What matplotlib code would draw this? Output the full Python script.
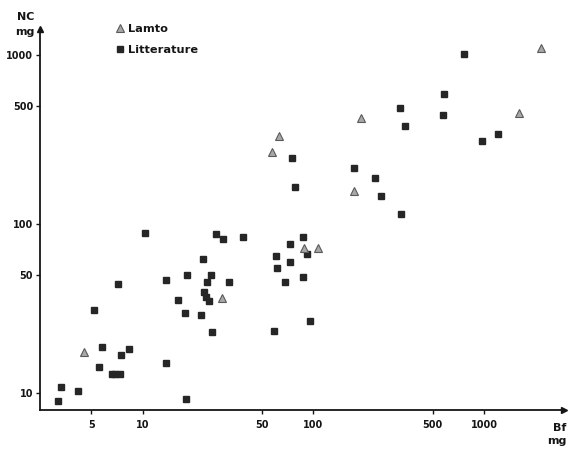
import matplotlib
matplotlib.use("Agg")
import matplotlib.pyplot as plt
import matplotlib.ticker as mticker

# Litterature (squares): Bf (mg), NC (mg)
lit_bf = [3.21, 3.34, 4.21, 5.59, 5.82, 6.58, 6.94, 7.33, 7.52, 8.28, 5.22, 7.22,
          10.4, 13.8, 13.8, 17.9, 16.1, 17.7, 18.1, 21.9, 22.5, 22.9, 23.5, 24.4,
          23.8, 25.1, 25.5, 32.1, 26.9, 29.5, 38.7, 59.0, 60.5, 61.4, 68.4, 73.3,
          73.3, 87.3, 87.3, 92.2, 95.9, 75.1, 78.3, 172, 228, 248, 325, 321, 343,
          582, 574, 763, 973, 1208]
lit_nc = [8.97, 10.9, 10.3, 14.3, 18.7, 12.9, 12.9, 12.9, 16.8, 18.2, 31.0, 44.2,
          88.5, 46.7, 15.1, 9.2, 35.5, 29.7, 49.9, 29.0, 62.1, 39.6, 37.0, 35.0,
          45.4, 49.9, 23.0, 45.4, 87.3, 81.5, 83.7, 23.3, 64.7, 54.9, 45.4, 76.2,
          59.6, 83.7, 48.5, 66.4, 26.7, 246, 166, 214, 187, 147, 115, 485, 380,
          588, 442, 1014, 310, 341]

# Lamto (triangles)
lam_bf = [4.56, 29.2, 88.5, 107, 57.4, 63.1, 174, 189, 1607, 2163]
lam_nc = [17.5, 36.5, 72.1, 72.1, 267, 332, 157, 424, 454, 1099]

x_ticks = [5, 10, 50, 100, 500, 1000]
y_ticks = [10, 50, 100, 500, 1000]

fig = plt.figure(figsize=(5.71, 4.49), dpi=100)
ax = fig.add_axes([40/571, 39/449, 524/571, 381/449])
ax.set_xscale("log")
ax.set_yscale("log")
ax.set_xlim(2.51, 2930)
ax.set_ylim(7.93, 1430)

ink = "#151515"
ax.plot(lit_bf, lit_nc, linestyle="none", marker="s", markersize=4.8,
        markerfacecolor="#262626", markeredgecolor="#262626", label="Litterature")
ax.plot(lam_bf, lam_nc, linestyle="none", marker="^", markersize=5.2,
        markerfacecolor="#a8a8a8", markeredgecolor="#5a5a5a", markeredgewidth=0.8,
        label="Lamto")

for s in ("top", "right"):
    ax.spines[s].set_visible(False)
for s in ("left", "bottom"):
    ax.spines[s].set_linewidth(1.3)
    ax.spines[s].set_color(ink)

ax.plot(1, 0, marker=">", color=ink, markersize=5, transform=ax.transAxes, clip_on=False)
ax.plot(0, 1, marker="^", color=ink, markersize=5, transform=ax.transAxes, clip_on=False)

ax.xaxis.set_major_locator(mticker.FixedLocator(x_ticks))
ax.yaxis.set_major_locator(mticker.FixedLocator(y_ticks))
ax.xaxis.set_minor_locator(mticker.NullLocator())
ax.yaxis.set_minor_locator(mticker.NullLocator())
ax.set_xticklabels([str(v) for v in x_ticks])
ax.set_yticklabels([str(v) for v in y_ticks])
ax.tick_params(axis="both", direction="out", length=3, width=1, color=ink,
               labelsize=7, labelcolor=ink, pad=2)
for lab in ax.get_xticklabels() + ax.get_yticklabels():
    lab.set_fontweight("bold")
ax.tick_params(axis="x", pad=4)

fig.text(34/571, 1 - 17/449, "NC", ha="right", va="center",
         fontsize=8, fontweight="bold", color=ink)
fig.text(34/571, 1 - 32/449, "mg", ha="right", va="center",
         fontsize=8, fontweight="bold", color=ink)
fig.text(566/571, 1 - 428/449, "Bf", ha="right", va="center",
         fontsize=8, fontweight="bold", color=ink)
fig.text(566/571, 1 - 441/449, "mg", ha="right", va="center",
         fontsize=8, fontweight="bold", color=ink)

handles, labels = ax.get_legend_handles_labels()
leg = ax.legend(handles[::-1], labels[::-1], loc="upper left",
                bbox_to_anchor=(0.122, 1.04), frameon=False, fontsize=8.2,
                handletextpad=0.25, labelspacing=0.95, handlelength=1.0)
for t in leg.get_texts():
    t.set_fontweight("bold")
    t.set_color(ink)

fig.savefig("out.png", dpi=100, facecolor="white")
